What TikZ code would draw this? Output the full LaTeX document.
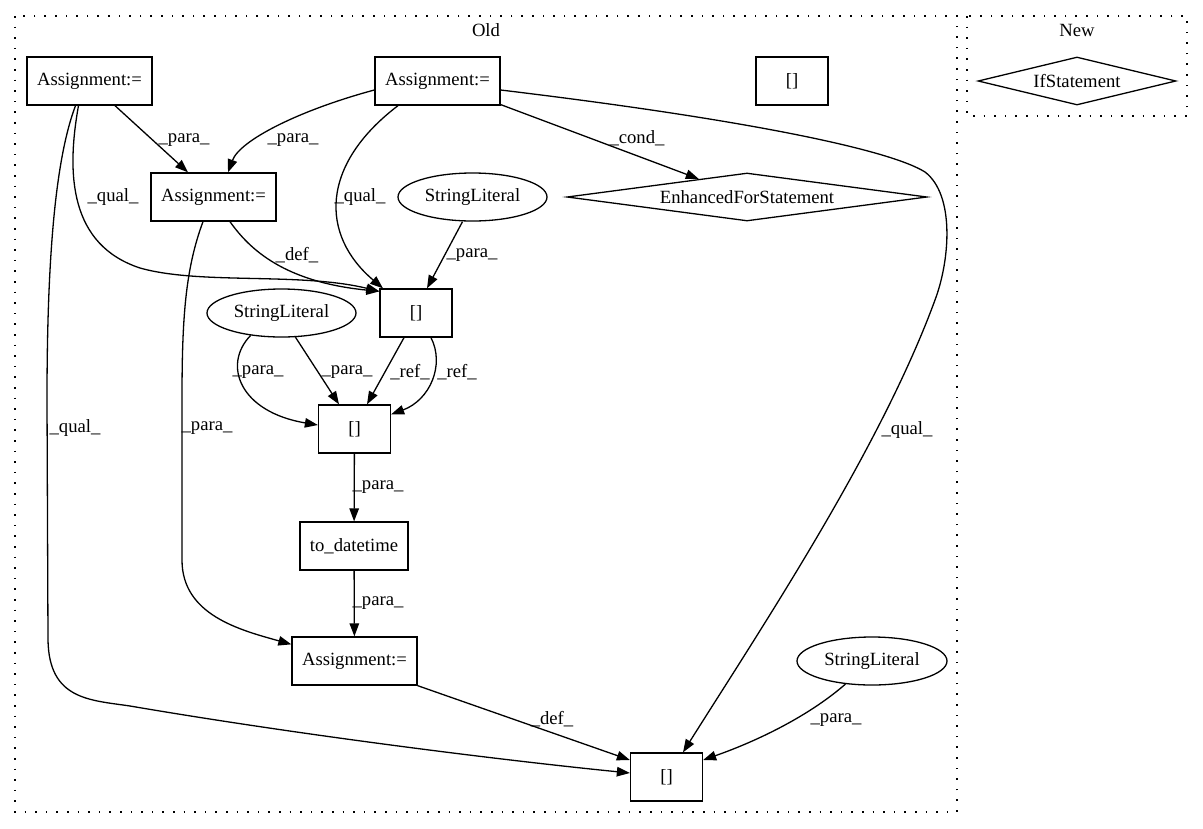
\documentclass[tikz,border=0pt]{standalone}
\usepackage{fontspec}
\setmainfont{Liberation Serif}
\usetikzlibrary{shapes.geometric,arrows.meta}
\begin{document}
\begin{tikzpicture}[x=1pt,y=-1pt,
  every node/.style={font=\fontsize{18.67}{22}\selectfont},
  box/.style={draw,rectangle,line width=1.3pt,minimum height=48pt,inner sep=0pt},
  ell/.style={draw,ellipse,line width=1.3pt,minimum width=149pt,minimum height=48pt,inner sep=0pt},
  dia/.style={draw,diamond,line width=1.3pt,inner sep=0pt},
  edge/.style={line width=1.3pt,-{Triangle[length=13pt,width=9.5pt]}},
  lbl/.style={inner sep=0pt},
  cluster/.style={line width=1.6pt,dash pattern=on 1.6pt off 9pt}]
\useasboundingbox (0,0) rectangle (1203,828);
% clusters
\draw[cluster] (15,16) rectangle (957,812);
\draw[cluster] (967,16) rectangle (1187,116);
\node[lbl] (old) at (486,30) {Old};
\node[lbl] (new) at (1077,30) {New};
% nodes
\node[box,minimum width=125pt] (A1) at (89.5,81) {Assignment:=};
\node[box,minimum width=125pt] (A2) at (437.5,81) {Assignment:=};
\node[box,minimum width=72pt] (T0) at (792,81) {[]};
\node[dia,minimum width=198pt,minimum height=48pt,aspect=4.1] (IF) at (1077,81) {IfStatement};
\node[box,minimum width=125pt] (A3) at (213.5,197) {Assignment:=};
\node[ell] (SL1) at (472.5,197) {StringLiteral};
\node[dia,minimum width=360pt,minimum height=48pt,aspect=7.5] (EFS) at (747,197) {EnhancedForStatement};
\node[box,minimum width=72pt] (B1) at (416,313) {[]};
\node[ell] (SL2) at (281.5,313) {StringLiteral};
\node[box,minimum width=72pt] (B2) at (354.5,429) {[]};
\node[box,minimum width=108pt] (TD) at (354,546) {to\_datetime};
\node[box,minimum width=125pt] (A4) at (354.5,661) {Assignment:=};
\node[box,minimum width=72pt] (BB) at (666.5,777) {[]};
\node[ell,minimum width=150pt] (SL3) at (872,661) {StringLiteral};
% edges
\draw[edge] ([xshift=25.5pt]A1.south) -- ([xshift=-25.5pt]A3.north);
\draw[edge] ([yshift=-9pt]A2.west) .. controls (300,110) and (240,140) .. ([xshift=14.5pt]A3.north);
\draw[edge] ([xshift=-11pt]A1.south) .. controls (66,175) and (70,245) .. (140,268) .. controls (200,285) and (300,272) .. ([yshift=-3pt]B1.north west);
\draw[edge] ([xshift=16.5pt]A3.south) .. controls (250,250) and (285,282) .. ([yshift=-3pt]B1.north west);
\draw[edge] ([xshift=-39.5pt]A2.south) .. controls (320,165) and (320,235) .. ([xshift=-33pt]B1.north);
\draw[edge] ([xshift=-10pt]SL1.south) -- ([xshift=11pt]B1.north);
\draw[edge] (A2) -- (EFS);
\draw[edge] ([yshift=-9pt]A2.east) .. controls (750,120) and (890,150) .. (925,172) .. controls (955,195) and (950,260) .. (935,300) .. controls (880,450) and (760,630) .. ([xshift=16.5pt]BB.north);
\draw[edge] ([xshift=-14pt]A1.south) .. controls (55,160) and (47,260) .. (47,400) -- (48,640) .. controls (49,700) and (90,700) .. (130,706) .. controls (300,735) and (500,760) .. ([yshift=4pt]BB.west);
\draw[edge] ([xshift=-10.5pt]A3.south) .. controls (185,270) and (182,320) .. (182,400) -- (182,560) .. controls (182,615) and (240,630) .. ([yshift=-8pt]A4.north west);
\draw[edge] (SL2.216) .. controls (222,365) and (240,412) .. ([yshift=4pt]B2.west);
\draw[edge] (SL2.-60) -- ([xshift=-15.5pt]B2.north);
\draw[edge] ([xshift=-12pt]B1.south) -- ([xshift=12.5pt]B2.north);
\draw[edge] ([xshift=15pt]B1.south) .. controls (445,365) and (430,400) .. ([yshift=-10pt]B2.north east);
\draw[edge] (B2) -- (TD);
\draw[edge] (TD) -- (A4);
\draw[edge] (A4.south east) -- ([yshift=17pt]BB.west);
\draw[edge] (SL3.221) .. controls (810,715) and (760,740) .. ([yshift=17pt]BB.east);
% edge labels
\node[lbl] (l1) at (184,140) {\_para\_};
\node[lbl] (l2) at (293,140) {\_para\_};
\node[lbl] (l3) at (113,197) {\_qual\_};
\node[lbl] (l4) at (360,197) {\_qual\_};
\node[lbl] (l5) at (297,255) {\_def\_};
\node[lbl] (l6) at (472,255) {\_para\_};
\node[lbl] (l7) at (637,138) {\_cond\_};
\node[lbl] (l8) at (907,430) {\_qual\_};
\node[lbl] (l9) at (75,428) {\_qual\_};
\node[lbl] (l10) at (207,428) {\_para\_};
\node[lbl] (l11) at (258,372) {\_para\_};
\node[lbl] (l12) at (347,372) {\_para\_};
\node[lbl] (l13) at (410,372) {\_ref\_};
\node[lbl] (l14) at (457,372) {\_ref\_};
\node[lbl] (l15) at (378,487) {\_para\_};
\node[lbl] (l16) at (378,603) {\_para\_};
\node[lbl] (l17) at (552,719) {\_def\_};
\node[lbl] (l18) at (836,720) {\_para\_};
\end{tikzpicture}
\end{document}
